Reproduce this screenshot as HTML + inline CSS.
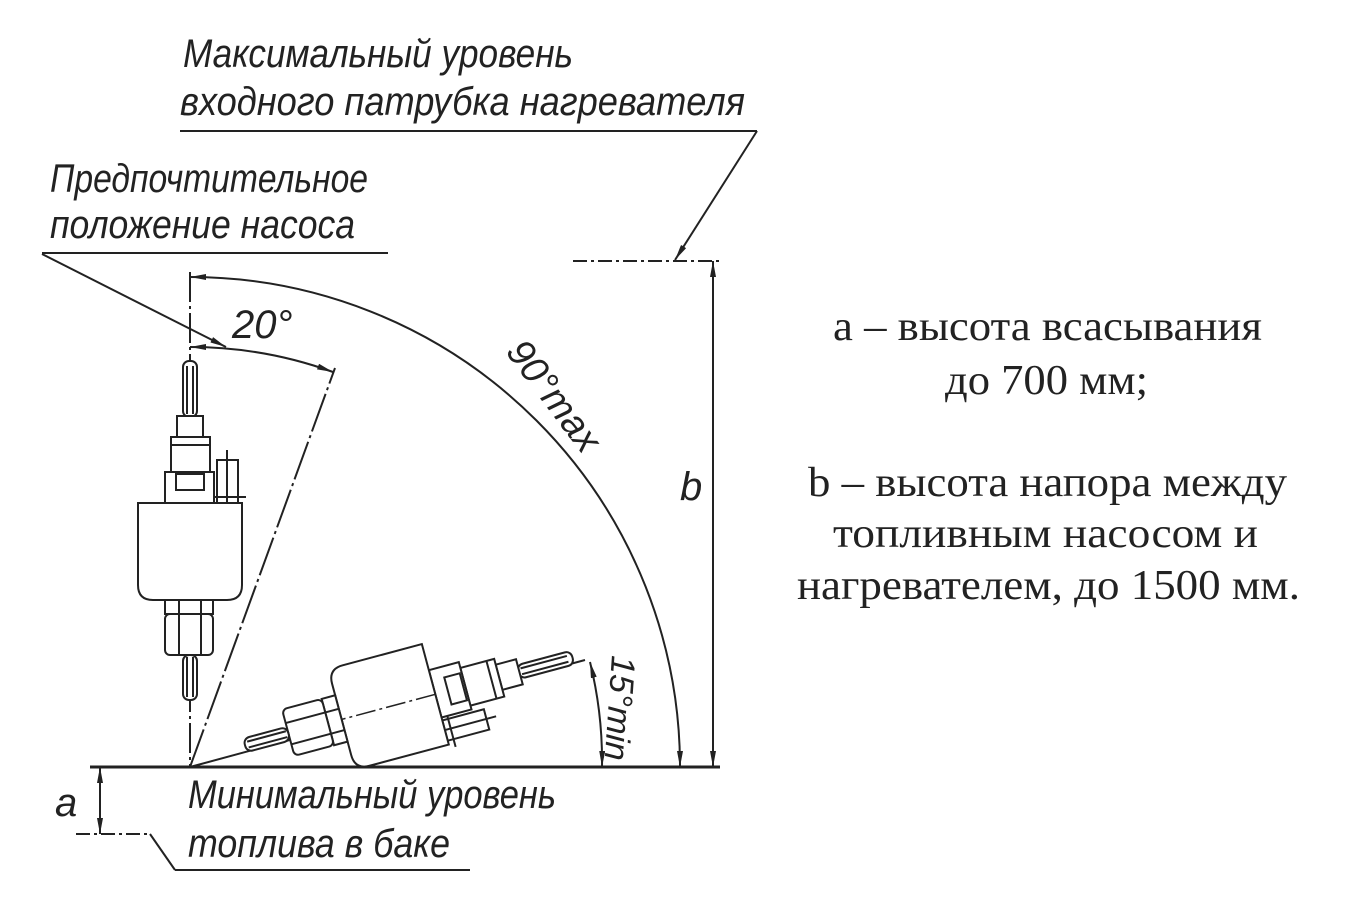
<!DOCTYPE html>
<html><head><meta charset="utf-8"><style>
html,body{margin:0;padding:0;background:#fff;}
svg{display:block}
.d{font-family:"Liberation Sans",sans-serif;font-style:italic;fill:#222;}
.r{font-family:"Liberation Serif",serif;fill:#222;font-size:42px;}
</style></head><body>
<svg width="1362" height="924" viewBox="0 0 1362 924" xmlns="http://www.w3.org/2000/svg">
<defs>
<marker id="ar" viewBox="0 0 16 6" refX="16" refY="3" markerWidth="16" markerHeight="6" orient="auto-start-reverse" markerUnits="userSpaceOnUse"><path d="M0,0 L16,3 L0,6z" fill="#222"/></marker>
<g id="pump" fill="#fff" stroke="#222" stroke-width="2">
<rect x="183" y="361" width="14" height="56" rx="6"/>
<line x1="187" y1="366" x2="187" y2="414"/><line x1="193" y1="366" x2="193" y2="414"/>
<rect x="177" y="416" width="26" height="21"/>
<rect x="171" y="437" width="39" height="35"/>
<line x1="171" y1="445" x2="210" y2="445"/>
<rect x="165" y="472" width="49" height="31"/>
<rect x="176" y="474" width="28" height="16"/>
<rect x="217" y="460" width="21" height="43"/>
<line x1="227" y1="450" x2="227" y2="503"/><line x1="214" y1="497" x2="246" y2="497"/>
<path d="M138,503 H242 V585 Q242,600 227,600 H153 Q138,600 138,585 Z"/>
<rect x="165" y="600" width="48" height="14"/>
<rect x="165" y="614" width="48" height="41" rx="5"/>
<line x1="179" y1="600" x2="179" y2="655"/><line x1="201" y1="600" x2="201" y2="655"/>
<rect x="183" y="655" width="14" height="45" rx="6"/>
<line x1="187" y1="657" x2="187" y2="697"/><line x1="193" y1="657" x2="193" y2="697"/>
</g>
</defs>
<g stroke="#222" stroke-width="2" fill="none">
<line x1="90" y1="767" x2="720" y2="767" stroke-width="3"/>
<line x1="180" y1="131" x2="757" y2="131"/>
<line x1="757" y1="131" x2="675" y2="260" marker-end="url(#ar)"/>
<line x1="573" y1="261" x2="722" y2="261" stroke-dasharray="14,4,3,4"/>
<line x1="713" y1="261" x2="713" y2="767" marker-start="url(#ar)" marker-end="url(#ar)"/>
<line x1="42" y1="253" x2="388" y2="253"/>
<line x1="42" y1="254" x2="226" y2="347" marker-end="url(#ar)"/>
<line x1="190" y1="272" x2="190" y2="767" stroke-dasharray="30,4,3,4"/>
<line x1="190" y1="767" x2="335" y2="368" stroke-dasharray="40,4,3,4"/>
<path d="M190,277 A490,490 0 0 1 680,767" marker-start="url(#ar)" marker-end="url(#ar)"/>
<path d="M190,347 A420,420 0 0 1 333,372" marker-start="url(#ar)" marker-end="url(#ar)"/>
<line x1="190" y1="767" x2="585" y2="660"/>
<path d="M590,662 A412,412 0 0 1 602,767" marker-start="url(#ar)" marker-end="url(#ar)"/>
<line x1="100" y1="767" x2="100" y2="834" marker-start="url(#ar)" marker-end="url(#ar)"/>
<line x1="76" y1="834" x2="150" y2="834" stroke-dasharray="14,4,3,4"/>
<line x1="150" y1="834" x2="175" y2="870"/>
<line x1="175" y1="870" x2="470" y2="870"/>
</g>
<use href="#pump"/>
<use href="#pump" transform="translate(388,707) rotate(75) translate(-190,-552)"/>
<line x1="190" y1="503" x2="190" y2="600" stroke="#222" stroke-width="1.5" stroke-dasharray="20,4,3,4" transform="translate(388,707) rotate(75) translate(-190,-552)"/>
<text class="d" x="183" y="67" font-size="40" textLength="390" lengthAdjust="spacingAndGlyphs">Максимальный уровень</text>
<text class="d" x="180" y="115" font-size="40" textLength="565" lengthAdjust="spacingAndGlyphs">входного патрубка нагревателя</text>
<text class="d" x="50" y="192" font-size="40" textLength="318" lengthAdjust="spacingAndGlyphs">Предпочтительное</text>
<text class="d" x="50" y="238" font-size="40" textLength="305" lengthAdjust="spacingAndGlyphs">положение насоса</text>
<text class="d" x="232" y="338" font-size="40">20°</text>
<text class="d" font-size="38" transform="translate(505,352) rotate(53)">90°max</text>
<text class="d" x="680" y="500" font-size="40">b</text>
<text class="d" font-size="34" transform="translate(612,655) rotate(94)" textLength="105" lengthAdjust="spacingAndGlyphs">15°min</text>
<text class="d" x="55" y="816" font-size="40">a</text>
<text class="d" x="188" y="808" font-size="40" textLength="368" lengthAdjust="spacingAndGlyphs">Минимальный уровень</text>
<text class="d" x="188" y="857" font-size="40" textLength="262" lengthAdjust="spacingAndGlyphs">топлива в баке</text>
<text class="r" x="833" y="340" textLength="429" lengthAdjust="spacingAndGlyphs">a – высота всасывания</text>
<text class="r" x="945" y="394" textLength="203" lengthAdjust="spacingAndGlyphs">до 700 мм;</text>
<text class="r" x="808" y="496" textLength="479" lengthAdjust="spacingAndGlyphs">b – высота напора между</text>
<text class="r" x="833" y="547" textLength="425" lengthAdjust="spacingAndGlyphs">топливным насосом и</text>
<text class="r" x="797" y="599" textLength="503" lengthAdjust="spacingAndGlyphs">нагревателем, до 1500 мм.</text>
</svg>
</body></html>
